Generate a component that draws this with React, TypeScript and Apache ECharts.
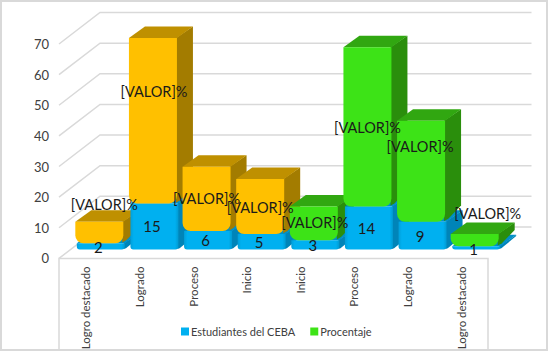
import React, { useEffect, useRef } from "react";
import * as echarts from "echarts";

const categories = ["Logro destacado", "Logrado", "Proceso", "Inicio", "Inicio", "Proceso", "Logrado", "Logro destacado"];
const estudiantes = [2, 15, 6, 5, 3, 14, 9, 1];
const procentaje = [7, 54, 21, 18, 11, 52, 33, 4];
const yTicks = [0, 10, 20, 30, 40, 50, 60, 70];
const percentLabel = "[VALOR]%";

const FONT = "Lato";
const GRID_LINE = "#D9D9D9";
const BAR_W = 48;
const SHIFT_X = 13.5;
const SHIFT_Y = -9;
const DEPTH_X = 16;
const DEPTH_Y = 11.5;
const BACK_X = 41;
const BACK_Y = 31.5;
const YELLOW = { front: "#FFC000", top: "#BF9000", side: "#A37C00" };
const GREEN = { front: "#3DE317", top: "#31A711", side: "#2A8E0C" };
const BLUE = {
  front: {
    type: "linear", x: 0, y: 0, x2: 1, y2: 0,
    colorStops: [
      { offset: 0, color: "#009FDA" }, { offset: 0.07, color: "#00B0F0" },
      { offset: 0.93, color: "#00B0F0" }, { offset: 1, color: "#009AD2" },
    ],
  },
  top: "#0090C8",
  side: "#0084B8",
};
// hand placement of the percent labels relative to each bar's centre / base
const LABEL_NUDGE = [
  [5, -45], [1, -158], [0, -51], [0, -42], [1, -27], [0, -122], [-1, -103], [13, -36],
];

function segment(api: any, i: number, base: number, top: number, c: any, r: number, z: number, bx = 0) {
  const pB = api.coord([i, base]);
  const pT = api.coord([i, top]);
  const x0 = pB[0] - BAR_W / 2 + SHIFT_X + bx;
  const x1 = x0 + BAR_W;
  const yB = pB[1] + SHIFT_Y;
  const yT = pT[1] + SHIFT_Y;
  const h = Math.max(yB - yT, 1);
  const rr = Math.min(r, h);
  return [
    {
      type: "polygon", z2: z,
      shape: { points: [[x1 - 1, yB - rr * 0.1], [x1 + rr * 0.4, yB - rr * 0.4], [x1 + DEPTH_X, yB - DEPTH_Y - rr * 0.6], [x1 + DEPTH_X, yT - DEPTH_Y], [x1 - 1, yT]] },
      style: { fill: c.side },
    },
    {
      type: "polygon", z2: z,
      shape: { points: [[x0, yT], [x0 + DEPTH_X, yT - DEPTH_Y], [x1 + DEPTH_X, yT - DEPTH_Y], [x1, yT]] },
      style: { fill: c.top },
    },
    {
      type: "rect", z2: z + 0.5,
      shape: { x: x0, y: yT, width: BAR_W, height: h, r: [0, 0, rr, rr] },
      style: { fill: c.front },
    },
  ];
}

export default function App() {
  const ref = useRef<HTMLDivElement>(null);
  useEffect(() => {
    document.body.style.margin = "0";
    const chart = echarts.init(ref.current!, null, { renderer: "svg" });
    chart.setOption({
      animation: false,
      backgroundColor: "#fff",
      textStyle: { fontFamily: FONT },
      graphic: [{
        type: "rect", silent: true, z: -1,
        shape: { x: 1, y: 1, width: 546, height: 349 },
        style: { fill: "none", stroke: GRID_LINE, lineWidth: 2 },
      }],
      grid: { left: 59, top: 44, width: 429, height: 214.4, outerBoundsMode: "none", containLabel: false },
      legend: {
        data: ["Estudiantes del CEBA", "Procentaje"],
        left: 176, top: 321, itemWidth: 8, itemHeight: 8, itemGap: 15, icon: "rect",
        textStyle: { fontSize: 11, color: "#404040", fontFamily: FONT, padding: [0, 0, 0, -3] },
      },
      xAxis: {
        type: "category", data: categories,
        axisLine: { show: false }, axisTick: { show: false }, splitLine: { show: false },
        axisLabel: { rotate: 90, interval: 0, fontSize: 11.5, color: "#404040", margin: 8, fontFamily: FONT, hideOverlap: false },
      },
      yAxis: {
        type: "value", min: 0, max: 70, interval: 10,
        axisLine: { show: false }, axisTick: { show: false }, splitLine: { show: false },
        axisLabel: { fontSize: 13, color: "#404040", margin: 10, fontFamily: FONT },
      },
      series: [
        {
          type: "custom", name: "walls", silent: true, z: 1,
          data: yTicks.map((t) => [0, t]),
          encode: { x: 0, y: 1 },
          renderItem: (params: any, api: any) => {
            const cs = params.coordSys;
            const y = api.coord([0, api.value(1)])[1];
            const line = { stroke: GRID_LINE, lineWidth: 1.5, fill: "none" };
            const children: any[] = [{
              type: "polyline",
              shape: { points: [[cs.x, y], [cs.x + BACK_X, y - BACK_Y], [cs.x + cs.width + 43.5, y - BACK_Y]] },
              style: line,
            }];
            if (api.value(1) === 0) {
              children.push({
                type: "polyline",
                shape: { points: [[cs.x, 350], [cs.x, y], [cs.x + cs.width, y], [cs.x + cs.width, 350]] },
                style: line,
              });
            }
            return { type: "group", children };
          },
        },
        {
          type: "custom", name: "Estudiantes del CEBA", z: 2,
          itemStyle: { color: "#00B0F0" },
          data: estudiantes.map((v, i) => [i, v]),
          encode: { x: 0, y: 1 },
          renderItem: (_p: any, api: any) => {
            const i = api.value(0), v = api.value(1);
            return {
              type: "group",
              children: segment(api, i, 0, v, BLUE, 3, i * 10, 1.5),
            };
          },
        },
        {
          type: "custom", name: "Procentaje", z: 2,
          itemStyle: { color: GREEN.front },
          data: procentaje.map((v, i) => [i, v]),
          encode: { x: 0, y: 1 },
          renderItem: (_p: any, api: any) => {
            const i = api.value(0), v = api.value(1);
            const base = estudiantes[i];
            return {
              type: "group",
              children: segment(api, i, base, base + v, i < 4 ? YELLOW : GREEN, 8, i * 10 + 2),
            };
          },
        },
        {
          type: "custom", name: "labels", silent: true, z: 3,
          data: estudiantes.map((v, i) => [i, v]),
          encode: { x: 0, y: 1 },
          renderItem: (_p: any, api: any) => {
            const i = api.value(0), v = api.value(1);
            const mid = api.coord([i, v / 2]);
            const base = api.coord([i, 0]);
            const cx = base[0] + SHIFT_X;
            return {
              type: "group",
              children: [
                {
                  type: "text", z2: 500, x: cx - 1, y: mid[1] + SHIFT_Y + (v < 3 ? 1 : 0),
                  style: { text: String(v), fontSize: 15, fontFamily: FONT, fill: "#1a1a1a", align: "center", verticalAlign: "middle" },
                },
                {
                  type: "text", z2: 500, x: cx + LABEL_NUDGE[i][0], y: base[1] + SHIFT_Y + LABEL_NUDGE[i][1],
                  style: { text: percentLabel, fontSize: 14.5, fontFamily: FONT, fill: "#1a1a1a", align: "center", verticalAlign: "middle" },
                },
              ],
            };
          },
        },
      ],
    });
    return () => chart.dispose();
  }, []);
  return <div ref={ref} style={{ position: "absolute", left: 0, top: 0, width: 549, height: 352 }} />;
}
